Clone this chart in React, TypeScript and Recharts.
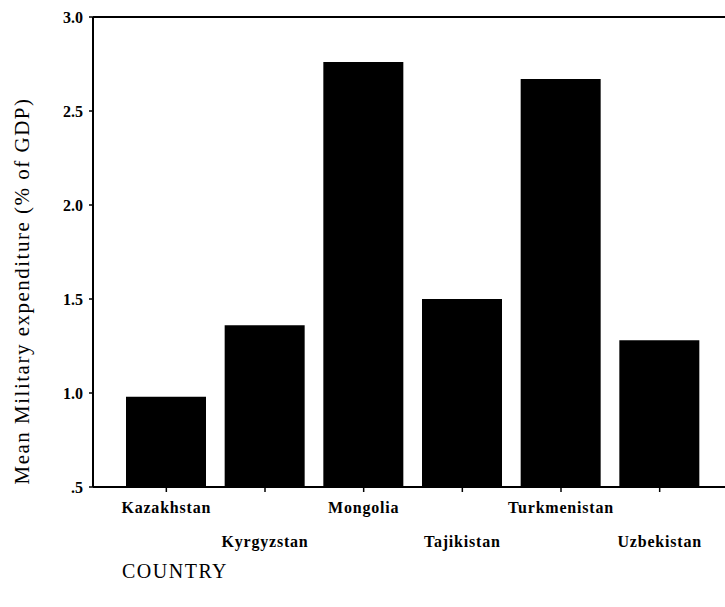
import { Bar, BarChart, Label, ReferenceLine, XAxis, YAxis } from "recharts";

const countries = [
  "Kazakhstan",
  "Kyrgyzstan",
  "Mongolia",
  "Tajikistan",
  "Turkmenistan",
  "Uzbekistan",
];
const meanSpend = [0.98, 1.36, 2.76, 1.5, 2.67, 1.28];
const yTicks = [0.5, 1.0, 1.5, 2.0, 2.5, 3.0];

const data = countries.map((name, i) => ({ name, value: meanSpend[i] }));

const serif = "'Liberation Serif', 'Times New Roman', serif";

// labels alternate between two rows, like the scanned original
const CountryTick = (props: any) => {
  const { x, y, payload, index } = props;
  const low = index % 2 === 1;
  return (
    <text
      x={x}
      y={y + (low ? 53 : 19)}
      textAnchor="middle"
      fill="#000"
      fontFamily={serif}
      fontWeight="bold"
      fontSize={16}
      letterSpacing={0.8}
    >
      {payload.value}
    </text>
  );
};

const fmtY = (v: number) => (v === 0.5 ? ".5" : v.toFixed(1));

export default function App() {
  return (
    <div
      style={{
        position: "absolute",
        left: 0,
        top: 0,
        width: 725,
        height: 607,
        background: "#fff",
      }}
    >
      <BarChart
        width={725}
        height={607}
        data={data}
        margin={{ top: 17, right: 0, left: 43, bottom: 0 }}
      >
        <XAxis
          dataKey="name"
          height={120}
          interval={0}
          padding={{ left: 24, right: 16 }}
          axisLine={{ stroke: "#000", strokeWidth: 2 }}
          tickLine={{ stroke: "#000", strokeWidth: 1.5 }}
          tickSize={5}
          tick={<CountryTick />}
        >
          <Label
            value="COUNTRY"
            position="insideBottomLeft"
            offset={29}
            fill="#000"
            fontFamily={serif}
            fontSize={20}
            letterSpacing={1.5}
          />
        </XAxis>
        <YAxis
          width={50}
          domain={[0.5, 3]}
          ticks={yTicks}
          interval={0}
          tickFormatter={fmtY}
          axisLine={{ stroke: "#000", strokeWidth: 2 }}
          tickLine={{ stroke: "#000", strokeWidth: 1.5 }}
          tickSize={4}
          tickMargin={6}
          tick={{
            fill: "#000",
            fontFamily: serif,
            fontWeight: "bold",
            fontSize: 16,
          }}
        />
        <ReferenceLine y={3} stroke="#000" strokeWidth={2} />
        <Bar
          dataKey="value"
          fill="#000"
          barSize={80}
          isAnimationActive={false}
        />
        <text
          x={22}
          y={291}
          transform="rotate(-90 22 291)"
          textAnchor="middle"
          dominantBaseline="central"
          fill="#000"
          fontFamily={serif}
          fontSize={21}
          letterSpacing={1.5}
        >
          Mean Military expenditure (% of GDP)
        </text>
      </BarChart>
    </div>
  );
}
